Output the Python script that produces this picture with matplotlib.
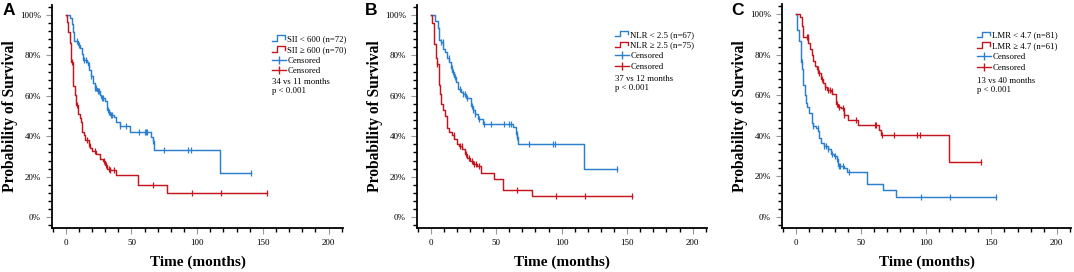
import numpy as np
from matplotlib import pyplot as plt
from matplotlib.lines import Line2D
from matplotlib.legend_handler import HandlerBase
from matplotlib.ticker import MultipleLocator, FuncFormatter

plt.rcParams['font.family'] = ['Liberation Serif', 'DejaVu Serif']

BLUE = '#2c7fcf'
RED  = '#c4161f'

#======================================================================================================
# Panel A : SII
a_blue_t = [0, 3, 4.5, 5.5, 6, 9, 11, 12.5, 13, 16, 17, 18, 19, 21, 22, 24, 26, 27, 30, 31.5, 33, 34,
            37, 38, 41, 49, 65, 66, 67, 117, 141]
a_blue_s = [100, 98.6, 95.8, 91.5, 87, 85, 83.5, 80.5, 78, 77, 75.5, 73, 70, 66.5, 64, 62.5, 60.5, 59,
            57.5, 53, 52, 50.5, 49.5, 47.3, 45, 42, 39.5, 37.5, 33, 22, 22]
a_blue_c = [8.5, 10, 14, 15, 17.5, 19.5, 22, 23, 24.5, 25, 27.5, 28, 32, 33, 34.5, 35.5, 41, 46, 56, 60,
            61, 62, 66, 75, 93, 95, 141]
a_red_t  = [0, 0.8, 2, 3.3, 4, 5.8, 7, 7.9, 9.6, 10.9, 11.7, 12.4, 13.5, 14.7, 17.3, 18.5, 19.8, 23,
            26.1, 28, 30, 31.2, 33.8, 38, 55, 77, 153.5]
a_red_s  = [100, 96.5, 91.5, 86, 77, 65, 60.5, 55.4, 51, 49, 47, 42, 40.5, 38.3, 36, 34, 32.7, 31.2,
            29, 27.6, 26, 24, 23.5, 21, 15.7, 11.9, 11.9]
a_red_c  = [5, 8.5, 16, 17.5, 22, 29, 30.5, 33, 34, 36.5, 66, 96, 118, 153.5]

# Panel B : NLR
b_blue_t = [0, 3.3, 5.3, 6.1, 7.9, 9.7, 11.2, 12.7, 14.2, 15.5, 16.5, 17.6, 19.3, 20.9, 22.9, 24.9,
            27, 30.8, 32.5, 33.8, 36.4, 40.2, 63.1, 64.9, 65.6, 66.5, 117, 142]
b_blue_s = [100, 97, 93.5, 87.5, 86.5, 83, 81.5, 79, 77, 74, 72, 69.5, 67, 63.5, 62, 61, 59, 55, 53,
            51, 48.5, 46, 44.5, 41, 39.5, 36, 24, 24]
b_blue_c = [8, 9.5, 14, 16, 17, 18.5, 22, 25, 26.5, 27.5, 31.5, 32.5, 34, 36.5, 41, 46, 56, 60, 61.5,
            65.5, 66.2, 75, 93, 95, 142]
b_red_t  = [0, 1, 2.3, 2.8, 4, 4.5, 6.1, 7.1, 7.9, 9.7, 11.2, 12.7, 14, 16.5, 18.1, 19.8, 21.9, 23.7,
            26.2, 28, 30, 32.5, 35, 38.4, 48.6, 55, 77.6, 153.4]
b_red_s  = [100, 96, 91, 85.5, 79, 76, 65.5, 61, 56, 53, 50, 44, 42, 40.5, 38.5, 36, 35, 33.5, 31,
            29.5, 28, 26.5, 25.3, 22, 19, 13.5, 10.2, 10.2]
b_red_c  = [5, 17.5, 22, 23.5, 27, 29, 31.5, 33, 34.5, 36.5, 66, 96, 118, 153.4]

# Panel C : LMR
c_blue_t = [0, 0.8, 1.3, 2.5, 3.8, 4.3, 5.1, 5.9, 6.9, 7.9, 8.9, 10.2, 12.2, 13, 15.3, 17.1, 18,
            19.6, 21.7, 24.7, 27.3, 29.3, 31.3, 32.4, 36.9, 39.5, 54.8, 66.8, 77, 153.6]
c_blue_s = [100, 97, 92, 87, 80, 76.5, 73, 65, 60, 56, 54, 51.5, 46.5, 45, 44, 42.5, 39, 36.5, 35,
            33.5, 31, 30, 28.5, 25, 24, 22, 16.5, 13.3, 10, 10]
c_blue_c = [5, 13, 17, 22, 23.5, 25, 28, 30, 32, 33, 34, 36.5, 41, 96, 118, 153.6]
c_red_t  = [0, 3.3, 4.6, 5.9, 9.7, 10.9, 12.2, 13.5, 14.8, 16, 17.3, 19.1, 21.1, 22.4, 24.2, 26.8,
            28, 31, 32.6, 34.9, 36.9, 40, 47.9, 63.7, 65, 117.2, 142]
c_red_s  = [100, 98.5, 94, 88.5, 86, 83, 80, 77, 74.5, 73, 71, 68, 66, 64, 62.5, 62, 60.5, 55.5, 54,
            53.5, 50.5, 48, 45.2, 43, 40.5, 27, 27]
c_red_c  = [8.5, 9.5, 17, 18, 20.5, 22.5, 25, 26.5, 27.5, 31.5, 33, 36, 37, 46, 60.5, 61.5, 66, 75,
            93, 95, 142]

panel_letters = ['A', 'B', 'C']
blue_labels   = ['SII < 600 (n=72)', 'NLR < 2.5 (n=67)', 'LMR < 4.7 (n=81)']
red_labels    = ['SII \u2265 600 (n=70)', 'NLR \u2265 2.5 (n=75)', 'LMR \u2265 4.7 (n=61)']
stats_text    = ['34 vs 11 months\np < 0.001', '37 vs 12 months\np < 0.001', '13 vs 40 months\np < 0.001']

panels = [
    (a_blue_t, a_blue_s, a_blue_c, a_red_t, a_red_s, a_red_c),
    (b_blue_t, b_blue_s, b_blue_c, b_red_t, b_red_s, b_red_c),
    (c_blue_t, c_blue_s, c_blue_c, c_red_t, c_red_s, c_red_c),
]

# axes rectangles in pixels (left, right, top, bottom)
W, H = 1074, 272
rects_px = [(52, 343, 5, 228), (417, 707, 5, 228), (782, 1071, 4, 228)]
legend_xy = [(0.756, 0.865), (0.683, 0.885), (0.675, 0.878)]
stats_xy  = [(0.757, 0.673), (0.684, 0.686), (0.676, 0.674)]
letter_x  = [3, 365, 731]

#======================================================================================================

class HandlerStep(HandlerBase):
    def create_artists(self, legend, orig_handle, xdescent, ydescent, width, height, fontsize, trans):
        x0, y0 = -xdescent, -ydescent
        xs = [x0, x0 + 0.35 * width, x0 + 0.35 * width, x0 + 0.9 * width, x0 + 0.9 * width]
        ys = [y0 + 0.05 * height, y0 + 0.05 * height, y0 + 0.95 * height, y0 + 0.95 * height, y0 + 0.4 * height]
        line = Line2D(xs, ys, color=orig_handle.get_color(), lw=1.0)
        line.set_transform(trans)
        return [line]


def surv_at(times, surv, t):
    idx = np.searchsorted(times, t, side='right') - 1
    return np.asarray(surv)[idx]


def draw_panel(ax, data, k):
    bt, bs, bc, rt, rs, rc = data
    for t, s, c, col in [(bt, bs, bc, BLUE), (rt, rs, rc, RED)]:
        ax.step(t, s, where='post', color=col, lw=1.05)
        ax.plot(c, surv_at(t, s, c), ls='none', marker='|', ms=5, mew=0.9, color=col)

    ax.set_xlim(-10.5, 211)
    ax.set_ylim(-5.4, 105)
    for side in ['top', 'right']:
        ax.spines[side].set_visible(False)
    for side in ['left', 'bottom']:
        ax.spines[side].set_linewidth(1.3)

    ax.xaxis.set_major_locator(MultipleLocator(50))
    ax.xaxis.set_minor_locator(MultipleLocator(10))
    ax.yaxis.set_major_locator(MultipleLocator(20))
    ax.yaxis.set_minor_locator(MultipleLocator(4))
    ax.yaxis.set_major_formatter(FuncFormatter(lambda v, p: '%d%%' % v))
    ax.tick_params(which='major', length=4, width=0.8, color='#999999', labelsize=6.5, pad=4)
    ax.tick_params(which='minor', length=3, width=1.0, color='black')

    ax.set_xlabel('Time (months)', fontsize=11, fontweight='bold', labelpad=6)
    ax.set_ylabel('Probability of Survival', fontsize=11.2, fontweight='bold', labelpad=1.5)

    handles = [Line2D([], [], color=BLUE), Line2D([], [], color=RED),
               Line2D([], [], color=BLUE, marker='|', ms=6, mew=1.0, lw=1.0),
               Line2D([], [], color=RED, marker='|', ms=6, mew=1.0, lw=1.0)]
    labels = [blue_labels[k], red_labels[k], 'Censored', 'Censored']
    ax.legend(handles, labels, loc='upper left', bbox_to_anchor=legend_xy[k], frameon=False,
              fontsize=6.3, handlelength=1.6, handletextpad=0.15, labelspacing=0.3,
              borderpad=0, borderaxespad=0, numpoints=1,
              handler_map={handles[0]: HandlerStep(), handles[1]: HandlerStep()})
    ax.text(stats_xy[k][0], stats_xy[k][1], stats_text[k], transform=ax.transAxes, fontsize=6.3,
            va='top', ha='left', linespacing=1.1)


def main():
    fig = plt.figure(figsize=(W / 100, H / 100), dpi=100)
    for k in range(3):
        l, r, t, b = rects_px[k]
        ax = fig.add_axes([l / W, (H - b) / H, (r - l) / W, (b - t) / H])
        draw_panel(ax, panels[k], k)
        fig.text(letter_x[k] / W, (H - 3) / H, panel_letters[k], fontsize=12.5,
                 fontweight='bold', family='Liberation Sans', va='top', ha='left')
    fig.savefig('out.png', dpi=100)


if __name__ == "__main__":
    main()
